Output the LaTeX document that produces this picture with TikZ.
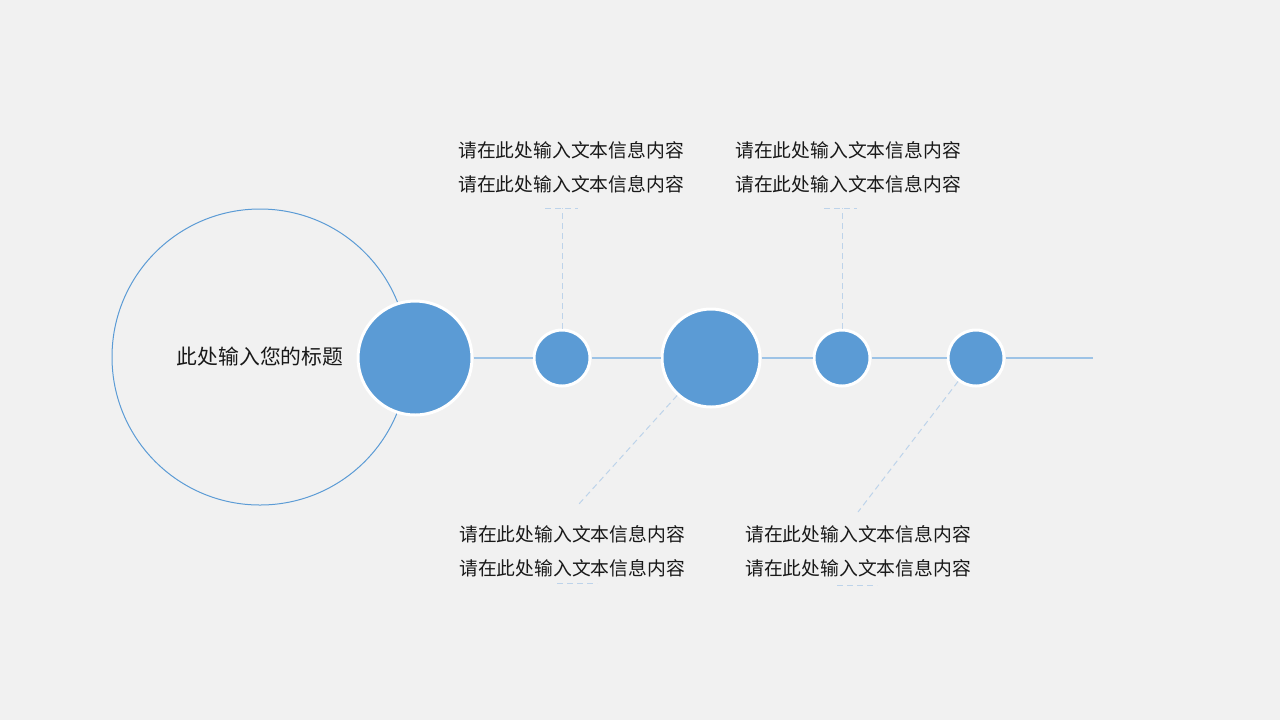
\documentclass[tikz,border=0pt]{standalone}
\usepackage{fontspec}
\setmainfont{Noto Sans CJK SC}
\usepackage{xcolor}
\usetikzlibrary{positioning,calc}

\definecolor{dotblue}{HTML}{5B9BD5}
\definecolor{lineblue}{HTML}{9DC3E6}
\definecolor{dashblue}{HTML}{BDD3EA}
\definecolor{bggray}{HTML}{F1F1F1}

\begin{document}
\begin{tikzpicture}[
            x=0.5pt, y=-0.5pt,
            dot/.style={circle, draw=white, line width=1.5pt, fill=dotblue, inner sep=0pt},
            ring/.style={circle, draw=dotblue, line width=0.5pt, inner sep=0pt, minimum size=148pt},
            link/.style={draw=lineblue, line width=0.6pt},
            guide/.style={draw=dashblue, line width=0.5pt, dash pattern=on 3pt off 2pt},
            info/.style={align=center, font=\fontsize{9.4}{17}\selectfont, text=black!90}
        ]
            % background
            \fill[bggray] (0,0) rectangle (1280,720);
            \useasboundingbox (0,0) rectangle (1280,720);

            \node[ring] (ring) at (260,357) {};
            \node[font=\fontsize{10.4}{12}\selectfont, text=black!90] (title) at (260,357) {此处输入您的标题};

            \node[dot, minimum size=57pt] (c1) at (415,358) {};
            \node[dot, minimum size=28pt] (c2) at (562,358) {};
            \node[dot, minimum size=49pt] (c3) at (711,358) {};
            \node[dot, minimum size=28pt] (c4) at (842,358) {};
            \node[dot, minimum size=28pt] (c5) at (976,358) {};
            \coordinate (tail) at (1093,358);

            \draw[link] (c1) -- (c2);
            \draw[link] (c2) -- (c3);
            \draw[link] (c3) -- (c4);
            \draw[link] (c4) -- (c5);
            \draw[link] (c5) -- (tail);

            % Labels
            \node[info] (up1) at (571,167) {请在此处输入文本信息内容\\请在此处输入文本信息内容};
            \node[info] (up2) at (848,167) {请在此处输入文本信息内容\\请在此处输入文本信息内容};
            \node[info] (dn1) at (572,551) {请在此处输入文本信息内容\\请在此处输入文本信息内容};
            \node[info] (dn2) at (858,551) {请在此处输入文本信息内容\\请在此处输入文本信息内容};

            % guides
            \coordinate (g2) at (562,208);
            \coordinate (g4) at (842,208);
            \coordinate (g3) at (578,505);
            \coordinate (g5) at (858,512);
            \draw[guide] (c2) -- (g2);
            \draw[guide] ($(g2)+(-17,0)$) -- ($(g2)+(16,0)$);
            \draw[guide] (c4) -- (g4);
            \draw[guide] ($(g4)+(-18,0)$) -- ($(g4)+(15,0)$);
            \draw[guide] (c3) -- (g3);
            \draw[guide] (c5) -- (g5);
            \draw[guide] (557,583) -- (597,583);
            \draw[guide] (837,585) -- (877,585);
        \end{tikzpicture}
\end{document}
